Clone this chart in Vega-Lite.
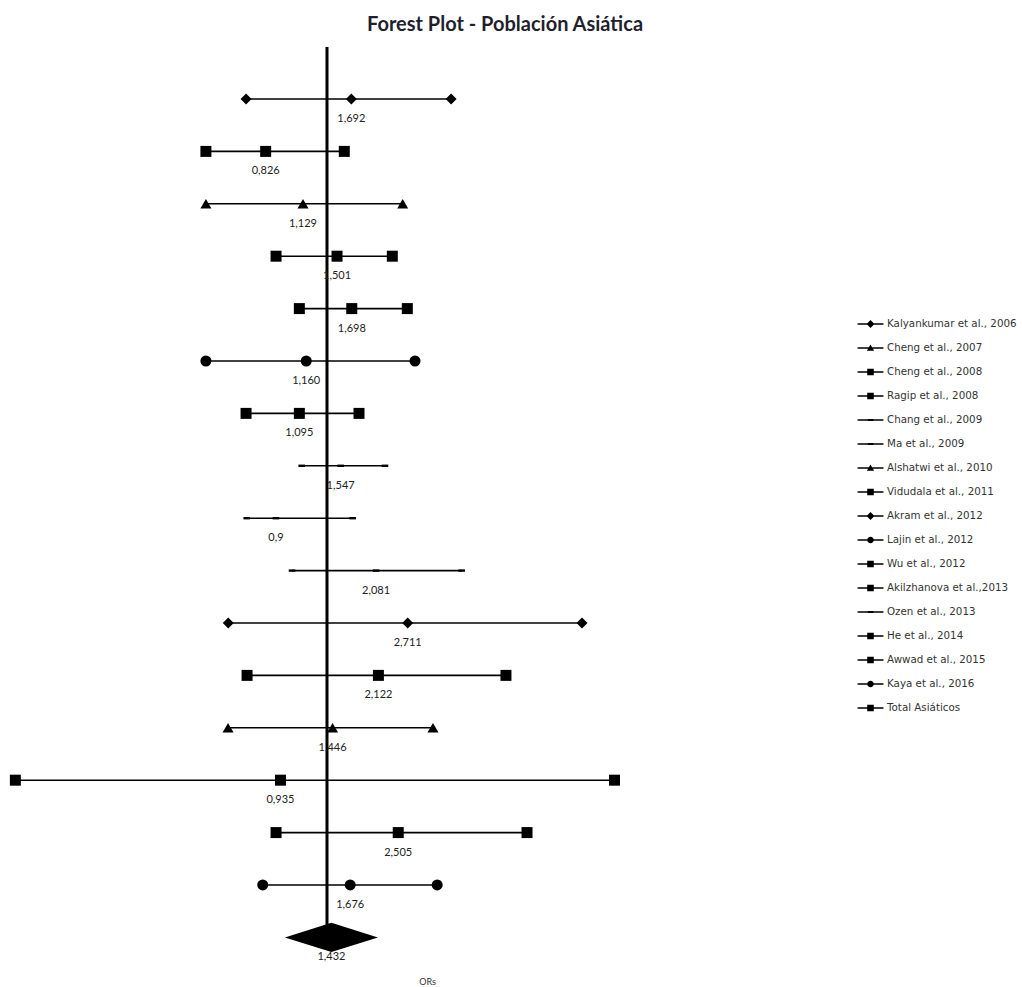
{
  "$schema": "https://vega.github.io/schema/vega-lite/v6.json",
  "width": 1010,
  "height": 942,
  "autosize": "none",
  "padding": {"left": 0, "top": 45, "right": 12, "bottom": 0},
  "background": "white",
  "title": {"text": "Forest Plot  - Población Asiática", "fontSize": 20, "font": "Lato", "fontWeight": "bold", "color": "#1f1f2e", "anchor": "middle", "frame": "group", "baseline": "alphabetic", "offset": 8, "dy": 14},
  "config": {
    "view": {"stroke": null},
    "axisX": {"domain": false, "ticks": false, "labels": false, "grid": false, "titleX": 427, "titleY": -6, "titleBaseline": "middle", "titleAlign": "center", "titleFont": "Lato", "titleFontSize": 9, "titleFontWeight": "normal", "titleColor": "#333"}
  },
  "data": {"values": [
    {"row": 1, "study": "Kalyankumar et al., 2006", "or": 1.692, "low": 0.701, "high": 3.90, "label": "1,692"},
    {"row": 2, "study": "Cheng et al., 2008", "or": 0.826, "low": 0.501, "high": 1.595, "label": "0,826"},
    {"row": 3, "study": "Cheng et al., 2007", "or": 1.129, "low": 0.501, "high": 2.60, "label": "1,129"},
    {"row": 4, "study": "Ragip et al., 2008", "or": 1.501, "low": 0.901, "high": 2.384, "label": "1,501"},
    {"row": 5, "study": "Vidudala et al., 2011", "or": 1.698, "low": 1.095, "high": 2.703, "label": "1,698"},
    {"row": 6, "study": "Lajin et al., 2012", "or": 1.160, "low": 0.501, "high": 2.882, "label": "1,160"},
    {"row": 7, "study": "Wu et al., 2012", "or": 1.095, "low": 0.701, "high": 1.804, "label": "1,095"},
    {"row": 8, "study": "Chang et al., 2009", "or": 1.547, "low": 1.117, "high": 2.242, "label": "1,547"},
    {"row": 9, "study": "Ma et al., 2009", "or": 0.9, "low": 0.705, "high": 1.711, "label": "0,9"},
    {"row": 10, "study": "Ozen et al., 2013", "or": 2.081, "low": 1.030, "high": 4.26, "label": "2,081"},
    {"row": 11, "study": "Akram et al., 2012", "or": 2.711, "low": 0.604, "high": 11.66, "label": "2,711"},
    {"row": 12, "study": "Akilzhanova et al.,2013", "or": 2.122, "low": 0.707, "high": 6.17, "label": "2,122"},
    {"row": 13, "study": "Alshatwi et al., 2010", "or": 1.446, "low": 0.603, "high": 3.35, "label": "1,446"},
    {"row": 14, "study": "He et  al., 2014", "or": 0.935, "low": 0.1017, "high": 15.3, "label": "0,935"},
    {"row": 15, "study": "Awwad et al., 2015", "or": 2.505, "low": 0.901, "high": 7.36, "label": "2,505"},
    {"row": 16, "study": "Kaya et al., 2016", "or": 1.676, "low": 0.806, "high": 3.47, "label": "1,676"},
    {"row": 17, "study": "Total Asiáticos", "or": 1.432, "low": 0.987, "high": 2.15, "label": "1,432"}
  ]},
  "resolve": {"scale": {"shape": "independent"}},
  "layer": [
    {
      "data": {"values": [{}]},
      "mark": {"type": "rule", "strokeWidth": 3, "color": "black"},
      "encoding": {
        "x": {"datum": 1.38, "type": "quantitative", "title": "ORs", "scale": {"type": "log", "domain": [0.089436, 418.91], "nice": false}},
        "y": {"datum": 0.0077, "type": "quantitative", "axis": null, "scale": {"domain": [-0.0305, 17.947], "reverse": true, "nice": false, "zero": false}},
        "y2": {"datum": 17}
      }
    },
    {
      "transform": [{"filter": "datum.study !== 'Total Asiáticos'"}],
      "mark": {"type": "rule", "strokeWidth": 1.6, "color": "black"},
      "encoding": {
        "x": {"field": "low", "type": "quantitative", "title": "ORs"},
        "x2": {"field": "high"},
        "y": {"field": "row", "type": "quantitative", "axis": null}
      }
    },
    {
      "transform": [{"filter": "datum.study !== 'Total Asiáticos'"}, {"fold": ["low", "or", "high"], "as": ["which", "value"]}],
      "mark": {"type": "point", "filled": true, "size": 121, "color": "black", "opacity": 1},
      "encoding": {
        "x": {"field": "value", "type": "quantitative", "title": "ORs"},
        "y": {"field": "row", "type": "quantitative", "axis": null},
        "shape": {"field": "study", "type": "nominal", "legend": null, "scale": {
          "domain": ["Kalyankumar et al., 2006", "Cheng et al., 2007", "Cheng et al., 2008", "Ragip et al., 2008", "Chang et al., 2009", "Ma et al., 2009", "Alshatwi et al., 2010", "Vidudala et al., 2011", "Akram et al., 2012", "Lajin et al., 2012", "Wu et al., 2012", "Akilzhanova et al.,2013", "Ozen et al., 2013", "He et  al., 2014", "Awwad et al., 2015", "Kaya et al., 2016", "Total Asiáticos"],
          "range": ["diamond", "triangle-up", "square", "square", "M-0.6,-0.22H0.6V0.22H-0.6Z", "M-0.6,-0.22H0.6V0.22H-0.6Z", "triangle-up", "square", "diamond", "circle", "square", "square", "M-0.6,-0.22H0.6V0.22H-0.6Z", "square", "square", "circle", "square"]
        }}
      }
    },
    {
      "transform": [{"filter": "datum.study === 'Total Asiáticos'"}],
      "mark": {"type": "point", "filled": true, "size": 8649, "color": "black", "opacity": 1, "shape": "M-1,0L0,-0.312L1,0L0,0.312Z"},
      "encoding": {
        "x": {"field": "or", "type": "quantitative", "title": "ORs"},
        "y": {"field": "row", "type": "quantitative", "axis": null}
      }
    },
    {
      "mark": {"type": "text", "dy": 20, "font": "Lato", "fontSize": 11, "color": "#222", "align": "center", "baseline": "middle"},
      "encoding": {
        "x": {"field": "or", "type": "quantitative", "title": "ORs"},
        "y": {"field": "row", "type": "quantitative", "axis": null},
        "text": {"field": "label"}
      }
    },
    {
      "mark": {"type": "point", "filled": true, "size": 484, "color": "black", "opacity": 0},
      "encoding": {
        "x": {"field": "or", "type": "quantitative", "title": "ORs"},
        "y": {"field": "row", "type": "quantitative", "axis": null},
        "shape": {"field": "study", "type": "nominal",
          "scale": {
            "domain": ["Kalyankumar et al., 2006", "Cheng et al., 2007", "Cheng et al., 2008", "Ragip et al., 2008", "Chang et al., 2009", "Ma et al., 2009", "Alshatwi et al., 2010", "Vidudala et al., 2011", "Akram et al., 2012", "Lajin et al., 2012", "Wu et al., 2012", "Akilzhanova et al.,2013", "Ozen et al., 2013", "He et  al., 2014", "Awwad et al., 2015", "Kaya et al., 2016", "Total Asiáticos"],
            "range": [
              "M-1.18,-0.06H1.18V0.06H-1.18ZM0,-0.36L0.36,0L0,0.36L-0.36,0Z",
              "M-1.18,-0.06H1.18V0.06H-1.18ZM-0.33,0.26L0,-0.32L0.33,0.26Z",
              "M-1.18,-0.06H1.18V0.06H-1.18ZM-0.3,-0.3H0.3V0.3H-0.3Z",
              "M-1.18,-0.06H1.18V0.06H-1.18ZM-0.3,-0.3H0.3V0.3H-0.3Z",
              "M-1.18,-0.06H1.18V0.06H-1.18ZM-0.25,-0.1H0.25V0.1H-0.25Z",
              "M-1.18,-0.06H1.18V0.06H-1.18ZM-0.25,-0.1H0.25V0.1H-0.25Z",
              "M-1.18,-0.06H1.18V0.06H-1.18ZM-0.33,0.26L0,-0.32L0.33,0.26Z",
              "M-1.18,-0.06H1.18V0.06H-1.18ZM-0.3,-0.3H0.3V0.3H-0.3Z",
              "M-1.18,-0.06H1.18V0.06H-1.18ZM0,-0.36L0.36,0L0,0.36L-0.36,0Z",
              "M-1.18,-0.06H1.18V0.06H-1.18ZM-0.3,0A0.3,0.3 0 1,1 0.3,0A0.3,0.3 0 1,1 -0.3,0Z",
              "M-1.18,-0.06H1.18V0.06H-1.18ZM-0.3,-0.3H0.3V0.3H-0.3Z",
              "M-1.18,-0.06H1.18V0.06H-1.18ZM-0.3,-0.3H0.3V0.3H-0.3Z",
              "M-1.18,-0.06H1.18V0.06H-1.18ZM-0.25,-0.1H0.25V0.1H-0.25Z",
              "M-1.18,-0.06H1.18V0.06H-1.18ZM-0.3,-0.3H0.3V0.3H-0.3Z",
              "M-1.18,-0.06H1.18V0.06H-1.18ZM-0.3,-0.3H0.3V0.3H-0.3Z",
              "M-1.18,-0.06H1.18V0.06H-1.18ZM-0.3,0A0.3,0.3 0 1,1 0.3,0A0.3,0.3 0 1,1 -0.3,0Z",
              "M-1.18,-0.06H1.18V0.06H-1.18ZM-0.3,-0.3H0.3V0.3H-0.3Z"
            ]
          },
          "legend": {
            "title": null, "orient": "none", "legendX": 859, "legendY": 267.5,
            "symbolSize": 484, "labelFont": "DejaVu Sans", "labelFontSize": 10.3, "labelColor": "#333",
            "labelOffset": 5, "rowPadding": 7, "padding": 0, "labelLimit": 300,
            "symbolFillColor": "black", "symbolStrokeColor": "black", "symbolStrokeWidth": 0.3, "symbolOpacity": 1,
            "encode": {"symbols": {"update": {"opacity": {"value": 1}, "fill": {"value": "black"}, "stroke": {"value": "black"}, "strokeWidth": {"value": 0.3}}}}
          }
        }
      }
    }
  ]
}
